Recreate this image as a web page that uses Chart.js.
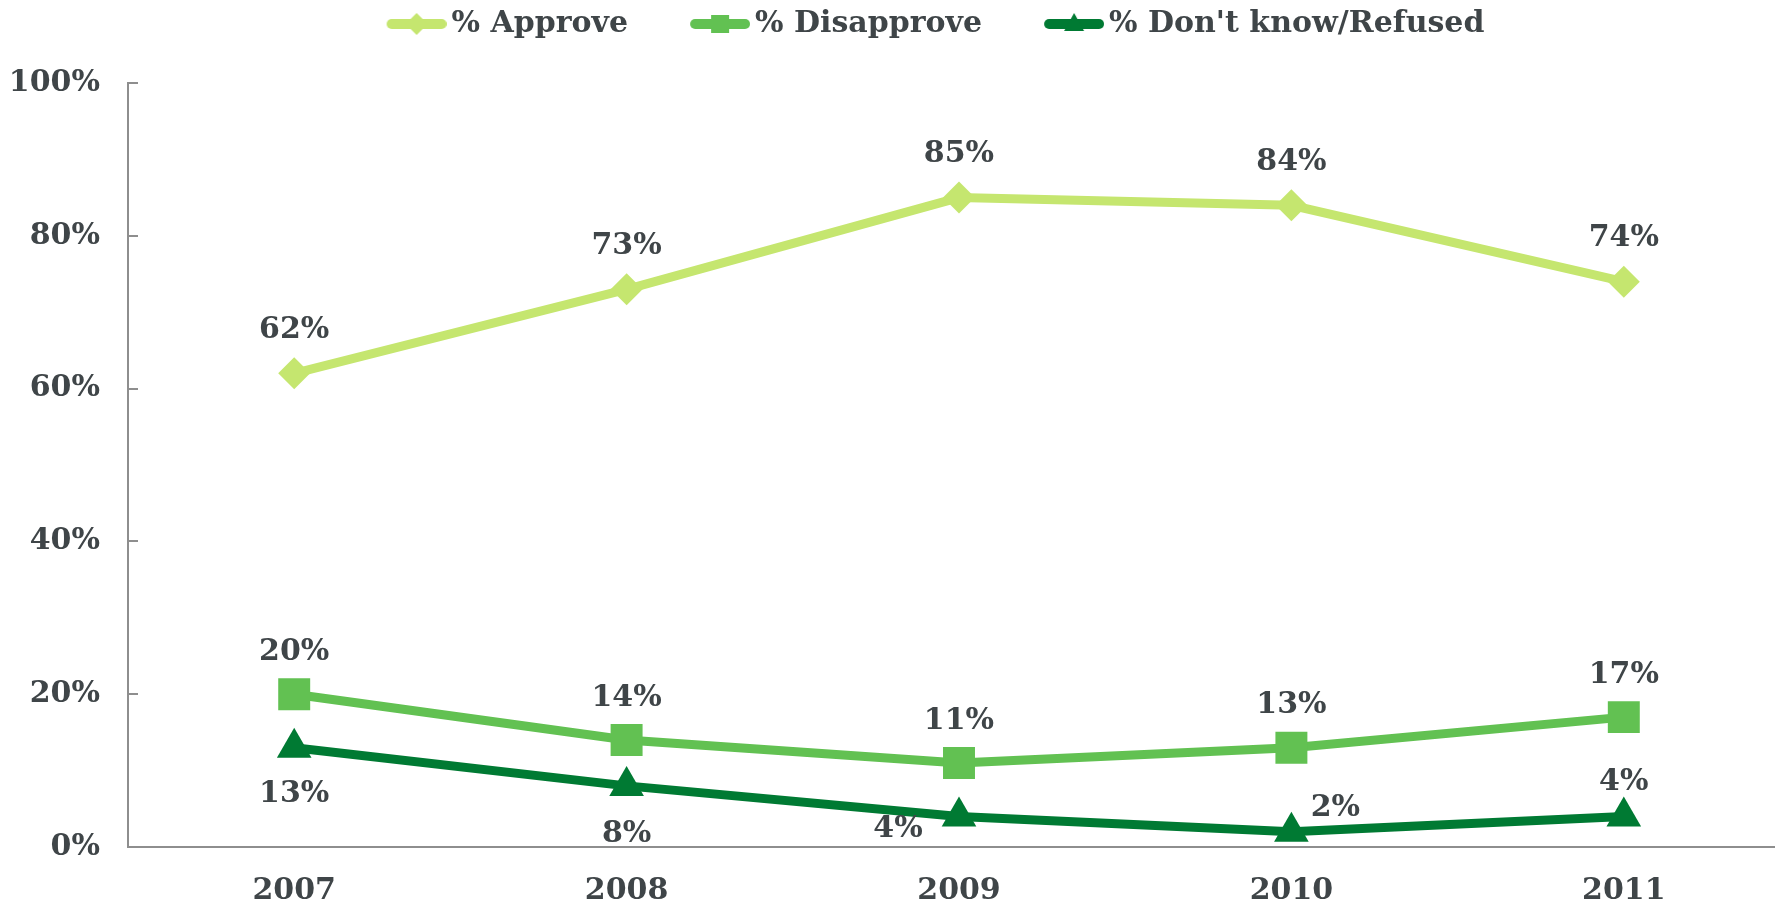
<!DOCTYPE html>
<html>
<head>
<meta charset="utf-8">
<script src="https://cdn.jsdelivr.net/npm/chart.js@4"></script>
<style>
html, body { margin: 0; padding: 0; overflow: hidden; background: #fff; }
#myChart { display: block; }
</style>
</head>
<body>
<canvas id="myChart" width="1790" height="903"></canvas>
<script>
// Données du graphique
const years = ['2007', '2008', '2009', '2010', '2011'];
const approve = [62, 73, 85, 84, 74];
const disapprove = [20, 14, 11, 13, 17];
const dontKnow = [13, 8, 4, 2, 4];
const yTicks = [0, 20, 40, 60, 80, 100];
const seriesNames = ['% Approve', '% Disapprove', "% Don't know/Refused"];

const colors = ['#C5E66F', '#62C152', '#007A33'];
const textColor = '#3f4548';
const fontFamily = '"DejaVu Serif", Georgia, serif';
const fontSize = 30;

// Icône de légende : trait + marqueur
function legendIcon(color, shape) {
    const c = document.createElement('canvas');
    c.width = 123;
    c.height = 44;
    const g = c.getContext('2d');
    g.strokeStyle = color;
    g.fillStyle = color;
    g.lineWidth = 10;
    g.lineCap = 'round';
    g.beginPath();
    g.moveTo(68, 22);
    g.lineTo(118, 22);
    g.stroke();
    const cx = 93, cy = 22;
    g.beginPath();
    if (shape === 'diamond') {
        g.moveTo(cx, cy - 11); g.lineTo(cx + 11, cy); g.lineTo(cx, cy + 11); g.lineTo(cx - 11, cy);
    } else if (shape === 'square') {
        g.rect(cx - 9, cy - 9, 18, 18);
    } else {
        g.moveTo(cx, cy - 11); g.lineTo(cx + 10, cy + 7); g.lineTo(cx - 10, cy + 7);
    }
    g.closePath();
    g.fill();
    return c;
}
const icons = [legendIcon(colors[0], 'diamond'), legendIcon(colors[1], 'square'), legendIcon(colors[2], 'triangle')];

// Étiquettes de valeurs
const valueLabels = {
    id: 'valueLabels',
    afterDatasetsDraw(chart) {
        const ctx = chart.ctx;
        ctx.save();
        ctx.font = '700 ' + fontSize + 'px ' + fontFamily;
        ctx.fillStyle = textColor;
        ctx.textAlign = 'center';
        ctx.textBaseline = 'middle';
        chart.data.datasets.forEach((ds, i) => {
            const meta = chart.getDatasetMeta(i);
            meta.data.forEach((pt, j) => {
                const off = ds.labelOffsets[j];
                ctx.fillText(ds.data[j] + '%', pt.x + off[0], pt.y + off[1]);
            });
        });
        ctx.restore();
    }
};

// Petites graduations intérieures sur l'axe Y
const innerTicks = {
    id: 'innerTicks',
    afterDraw(chart) {
        const y = chart.scales.y;
        const ctx = chart.ctx;
        ctx.save();
        ctx.strokeStyle = '#8e8e8e';
        ctx.lineWidth = 2;
        yTicks.forEach(v => {
            const py = Math.round(y.getPixelForValue(v));
            ctx.beginPath();
            ctx.moveTo(y.right, py);
            ctx.lineTo(y.right + 10, py);
            ctx.stroke();
        });
        ctx.restore();
    }
};

// Hauteur fixe de la légende + petit décalage vers la droite
const legendTweak = {
    id: 'legendTweak',
    beforeInit(chart) {
        const legend = chart.legend;
        const origFit = legend.fit;
        legend.fit = function () {
            origFit.call(this);
            this.height = 83;
        };
        const origDraw = legend.draw;
        legend.draw = function () {
            chart.ctx.save();
            chart.ctx.translate(14, 0);
            origDraw.call(this);
            chart.ctx.restore();
        };
    }
};

const ctx = document.getElementById('myChart');

new Chart(ctx, {
    type: 'line',
    data: {
        labels: years,
        datasets: [{
            label: seriesNames[0],
            data: approve,
            borderColor: colors[0],
            backgroundColor: colors[0],
            pointStyle: 'rectRot',
            pointRadius: 16,
            labelOffsets: [[0, -43], [0, -43], [0, -43], [0, -43], [0, -43]]
        }, {
            label: seriesNames[1],
            data: disapprove,
            borderColor: colors[1],
            backgroundColor: colors[1],
            pointStyle: 'rect',
            pointRadius: 22.6,
            labelOffsets: [[0, -42], [0, -42], [0, -42], [0, -42], [0, -42]]
        }, {
            label: seriesNames[2],
            data: dontKnow,
            borderColor: colors[2],
            backgroundColor: colors[2],
            pointStyle: 'triangle',
            pointRadius: 20,
            labelOffsets: [[0, 47], [0, 48], [-61, 13], [44, -24], [0, -34]]
        }]
    },
    options: {
        responsive: false,
        animation: false,
        layout: { padding: 0, autoPadding: false },
        elements: {
            line: { borderWidth: 9, tension: 0 },
            point: { borderWidth: 0, hoverRadius: 20 }
        },
        scales: {
            x: {
                offset: true,
                grid: { display: false, drawTicks: false },
                border: { color: '#8e8e8e', width: 2 },
                ticks: {
                    padding: 26,
                    color: textColor,
                    font: { family: fontFamily, size: fontSize, weight: 'bold' }
                },
                afterFit(scale) { scale.height = 56; }
            },
            y: {
                min: 0,
                max: 100,
                grid: { display: false, drawTicks: false },
                border: { color: '#8e8e8e', width: 2 },
                ticks: {
                    stepSize: 20,
                    padding: 28,
                    color: textColor,
                    font: { family: fontFamily, size: fontSize, weight: 'bold' },
                    callback: v => v + '%'
                },
                afterFit(scale) { scale.width = 128; }
            }
        },
        plugins: {
            tooltip: { enabled: false },
            legend: {
                position: 'top',
                labels: {
                    usePointStyle: true,
                    pointStyleWidth: 103,
                    padding: 9,
                    color: textColor,
                    font: { family: fontFamily, size: fontSize, weight: 'bold' },
                    generateLabels(chart) {
                        return chart.data.datasets.map((ds, i) => ({
                            text: ds.label,
                            fillStyle: colors[i],
                            strokeStyle: colors[i],
                            lineWidth: 0,
                            pointStyle: icons[i],
                            hidden: false,
                            datasetIndex: i,
                            fontColor: textColor
                        }));
                    }
                }
            }
        }
    },
    plugins: [valueLabels, innerTicks, legendTweak]
});
</script>
</body>
</html>
